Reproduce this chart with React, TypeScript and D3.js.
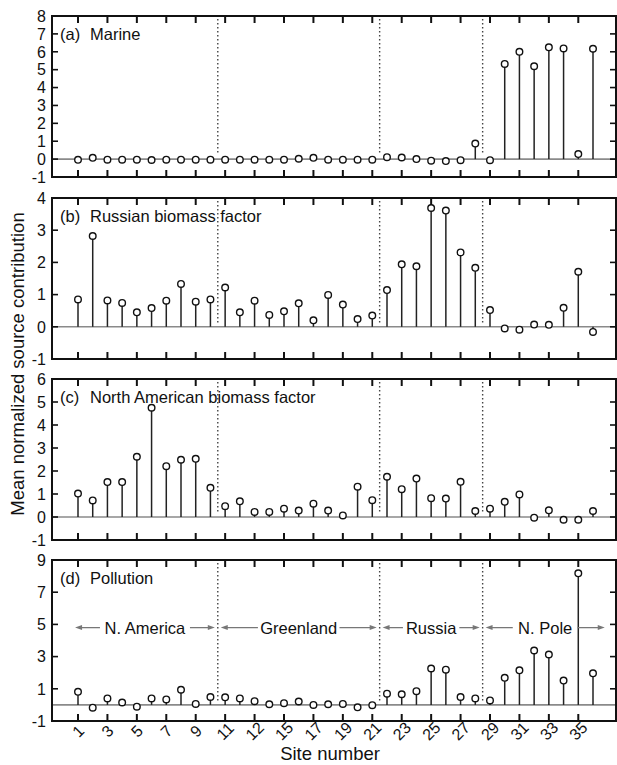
import * as d3 from "d3";

// Site numbers 1..36 and the bottom tick labels as printed (note "12" at site 13)
const SITES = [
  1, 2, 3, 4, 5, 6, 7, 8, 9, 10, 11, 12, 13, 14, 15, 16, 17, 18,
  19, 20, 21, 22, 23, 24, 25, 26, 27, 28, 29, 30, 31, 32, 33, 34, 35, 36,
];
const TICK_SITES = [1, 3, 5, 7, 9, 11, 13, 15, 17, 19, 21, 23, 25, 27, 29, 31, 33, 35];
const TICK_LABELS = ["1", "3", "5", "7", "9", "11", "12", "15", "17", "19", "21", "23", "25", "27", "29", "31", "33", "35"];

// Region dividers (between sites) and region labels for panel (d)
const DIVIDERS = [10.5, 21.5, 28.5];
const REGIONS = [
  { name: "N. America", from: 0.8, to: 10.3 },
  { name: "Greenland", from: 10.7, to: 21.3 },
  { name: "Russia", from: 21.7, to: 28.3 },
  { name: "N. Pole", from: 28.7, to: 36.8 },
];

// Mean normalized source contribution per site
const MARINE = [
  -0.04, 0.07, -0.03, -0.03, -0.03, -0.05, -0.03, -0.03, -0.03, -0.03,
  -0.03, -0.03, -0.03, -0.03, -0.03, 0.02, 0.07, -0.03, -0.03, -0.03,
  -0.03, 0.11, 0.09, 0.0, -0.09, -0.11, -0.06, 0.87, -0.06, 5.32,
  6.0, 5.19, 6.25, 6.19, 0.28, 6.17,
];
const RUSSIAN = [
  0.85, 2.82, 0.82, 0.74, 0.45, 0.58, 0.81, 1.33, 0.78, 0.85,
  1.22, 0.45, 0.81, 0.37, 0.48, 0.73, 0.2, 0.99, 0.69, 0.24,
  0.35, 1.14, 1.94, 1.88, 3.69, 3.61, 2.31, 1.83, 0.52, -0.05,
  -0.09, 0.07, 0.06, 0.59, 1.71, -0.16,
];
const NORTH_AM = [
  1.02, 0.72, 1.52, 1.52, 2.62, 4.75, 2.21, 2.49, 2.53, 1.27,
  0.47, 0.68, 0.22, 0.22, 0.36, 0.28, 0.58, 0.28, 0.07, 1.32,
  0.73, 1.75, 1.21, 1.67, 0.82, 0.8, 1.53, 0.26, 0.36, 0.66,
  0.98, -0.03, 0.29, -0.12, -0.12, 0.26,
];
const POLLUTION = [
  0.81, -0.17, 0.4, 0.15, -0.11, 0.4, 0.34, 0.94, 0.06, 0.49,
  0.47, 0.4, 0.23, 0.04, 0.11, 0.21, 0.0, 0.04, 0.06, -0.15,
  -0.02, 0.7, 0.66, 0.85, 2.26, 2.19, 0.49, 0.4, 0.28, 1.68,
  2.15, 3.38, 3.13, 1.51, 8.17, 1.96,
];

const PANELS = [
  { tag: "(a)", name: "Marine", values: MARINE, domain: [-1, 8], ticks: [-1, 0, 1, 2, 3, 4, 5, 6, 7, 8], top: 16 },
  { tag: "(b)", name: "Russian biomass factor", values: RUSSIAN, domain: [-1, 4], ticks: [-1, 0, 1, 2, 3, 4], top: 198 },
  { tag: "(c)", name: "North American biomass factor", values: NORTH_AM, domain: [-1, 6], ticks: [-1, 0, 1, 2, 3, 4, 5, 6], top: 379 },
  { tag: "(d)", name: "Pollution", values: POLLUTION, domain: [-1, 9], ticks: [-1, 1, 3, 5, 7, 9], top: 560 },
];

const W = 617;
const H = 765;
const LEFT = 52;
const RIGHT = 616;
const PANEL_H = 161;
const FONT = "'Liberation Sans', Arial, Helvetica, sans-serif";

const x = d3.scaleLinear().domain([1, 36]).range([78, 593]);

function Panel({ p, last }: { p: (typeof PANELS)[number]; last: boolean }) {
  const bottom = p.top + PANEL_H;
  const y = d3.scaleLinear().domain(p.domain).range([bottom, p.top]);
  const y0 = y(0);
  return (
    <g>
      {/* zero line */}
      <line x1={LEFT} x2={RIGHT} y1={y0} y2={y0} stroke="#8a8a8a" strokeWidth={1.6} />
      {/* region dividers */}
      {DIVIDERS.map((d) => (
        <line key={d} x1={x(d)} x2={x(d)} y1={p.top + 3} y2={y0 - 4}
          stroke="#444" strokeWidth={1.4} strokeDasharray="1.4,2.6" />
      ))}
      {/* stems and markers */}
      {SITES.map((s, i) => (
        <line key={"s" + s} x1={x(s)} x2={x(s)} y1={y0} y2={y(p.values[i])}
          stroke="#222" strokeWidth={1.5} />
      ))}
      {SITES.map((s, i) => (
        <circle key={"c" + s} cx={x(s)} cy={y(p.values[i])} r={3.3}
          fill="#fff" stroke="#111" strokeWidth={1.4} />
      ))}
      {/* frame */}
      <rect x={LEFT} y={p.top} width={RIGHT - LEFT} height={PANEL_H}
        fill="none" stroke="#111" strokeWidth={2} />
      {/* x ticks top and bottom */}
      {TICK_SITES.map((s) => (
        <g key={"t" + s}>
          <line x1={x(s)} x2={x(s)} y1={p.top} y2={p.top + 7} stroke="#111" strokeWidth={2} />
          <line x1={x(s)} x2={x(s)} y1={bottom} y2={bottom - 7} stroke="#111" strokeWidth={2} />
        </g>
      ))}
      {/* y ticks left and right */}
      {p.ticks.map((t) => (
        <g key={"y" + t}>
          <line x1={LEFT} x2={LEFT + 6} y1={y(t)} y2={y(t)} stroke="#111" strokeWidth={1.6} />
          <line x1={RIGHT} x2={RIGHT - 6} y1={y(t)} y2={y(t)} stroke="#111" strokeWidth={1.6} />
          <text x={46} y={y(t)} dy="0.36em" textAnchor="end" fontSize={16} fill="#111">
            {t}
          </text>
        </g>
      ))}
      {/* panel label */}
      <text x={60} y={p.top + 24} fontSize={16.5} fill="#111">{p.tag}</text>
      <text x={90} y={p.top + 24} fontSize={16.5} fill="#111">{p.name}</text>
      {last && REGIONS.map((r) => {
        const cx = (x(r.from) + x(r.to)) / 2;
        const ry = y(4.8);
        const half = r.name.length * 4.2 + 3;
        return (
          <g key={r.name}>
            <line x1={x(r.from) + 5} x2={cx - half} y1={ry} y2={ry} stroke="#777" strokeWidth={1.3} />
            <path d={`M${x(r.from)},${ry}l7,-2.5v5z`} fill="#777" />
            <line x1={cx + half} x2={x(r.to) - 5} y1={ry} y2={ry} stroke="#777" strokeWidth={1.3} />
            <path d={`M${x(r.to)},${ry}l-7,-2.5v5z`} fill="#777" />
            <text x={cx} y={ry} dy="0.36em" textAnchor="middle" fontSize={16.5} fill="#111">
              {r.name}
            </text>
          </g>
        );
      })}
    </g>
  );
}

export default function App() {
  const lastBottom = PANELS[3].top + PANEL_H;
  return (
    <svg width={W} height={H} style={{ position: "absolute", left: 0, top: 0, background: "#fff" }}
      fontFamily={FONT}>
      {PANELS.map((p, i) => (
        <Panel key={p.tag} p={p} last={i === PANELS.length - 1} />
      ))}
      {TICK_SITES.map((s, i) => (
        <text key={"xl" + s} transform={`translate(${x(s)},${lastBottom + 10}) rotate(-45)`}
          textAnchor="middle" dy="0.36em" fontSize={16} fill="#111">
          {TICK_LABELS[i]}
        </text>
      ))}
      <text x={330} y={760} textAnchor="middle" fontSize={18.5} fill="#111">Site number</text>
      <text transform="translate(24,364) rotate(-90)" textAnchor="middle" fontSize={18.5} fill="#111">
        Mean normalized source contribution
      </text>
    </svg>
  );
}
